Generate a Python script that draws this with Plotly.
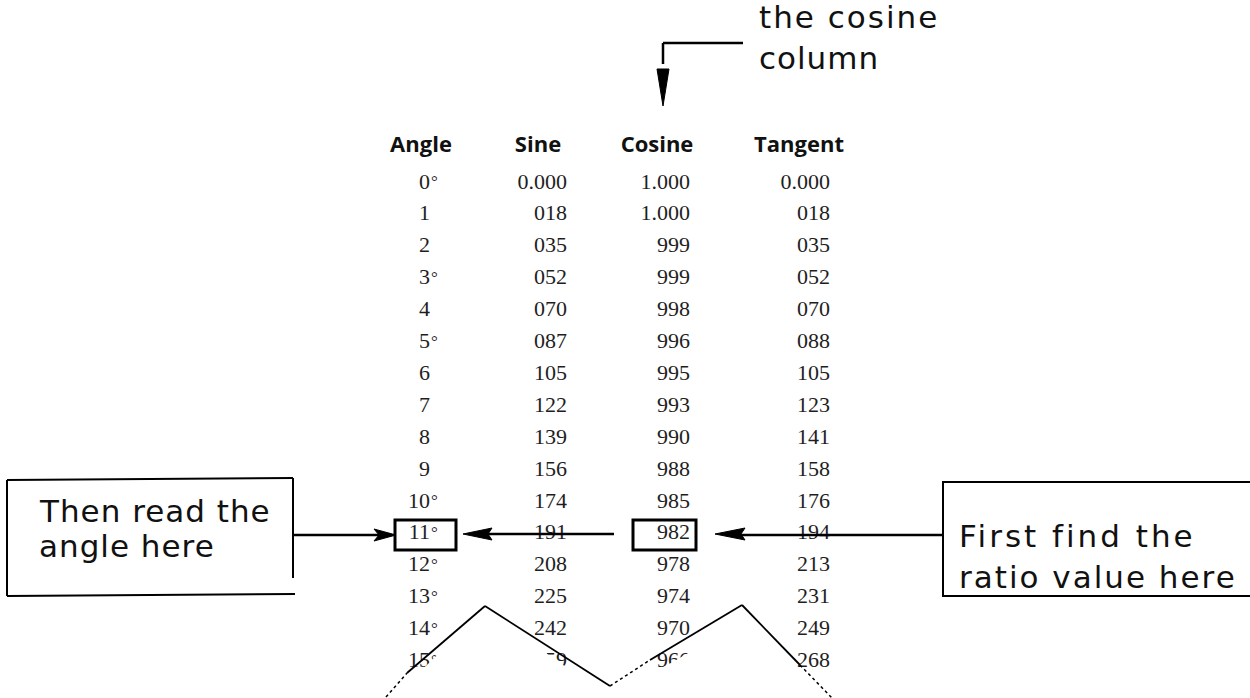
import plotly.graph_objects as go

# ---------------- data ----------------
headers = ["Angle", "Sine", "Cosine", "Tangent"]
angles = [0, 1, 2, 3, 4, 5, 6, 7, 8, 9, 10, 11, 12, 13, 14, 15]
angle_degree_mark = [True, False, False, True, False, True, False, False,
                     False, False, True, True, True, True, True, True]
sine_vals = ["0.000", "018", "035", "052", "070", "087", "105", "122",
             "139", "156", "174", "191", "208", "225", "242", "259"]
cosine_vals = ["1.000", "1.000", "999", "999", "998", "996", "995", "993",
               "990", "988", "985", "982", "978", "974", "970", "966"]
tangent_vals = ["0.000", "018", "035", "052", "070", "088", "105", "123",
                "141", "158", "176", "194", "213", "231", "249", "268"]
note_left = ["Then read the", "angle here"]
note_right = ["First find the", "ratio value here"]
note_top = ["the cosine", "column"]

# ---------------- geometry (layout only) ----------------
W, H = 1250, 698
ROW0_PX, ROW_PX = 183, 31.9
def row_of(px):
    return (px - ROW0_PX) / ROW_PX

rows = list(range(len(angles)))
HEADER_ROW = row_of(146)
COL_RIGHT = {"angle": 430, "sine": 567, "cosine": 690, "tangent": 830}
HEADER_X = [421, 538, 657, 799]

num_font = dict(family="Liberation Serif", size=22, color="#1e1e1e")
hand_font = dict(family="DejaVu Sans", size=31, color="#111")

fig = go.Figure()

fig.add_trace(go.Scatter(
    x=HEADER_X, y=[HEADER_ROW] * 4, mode="text",
    text=[f"<b>{h}</b>" for h in headers], textposition="middle center",
    textfont=dict(family="Open Sans", size=22, color="#111"),
    hoverinfo="skip", showlegend=False))

fig.add_trace(go.Scatter(
    x=[COL_RIGHT["angle"]] * len(angles), y=rows, mode="text",
    text=[str(a) for a in angles], textposition="middle left",
    textfont=num_font, hoverinfo="skip", showlegend=False))

deg_rows = [r for r, d in zip(rows, angle_degree_mark) if d]
fig.add_trace(go.Scatter(
    x=[COL_RIGHT["angle"] + 1] * len(deg_rows), y=deg_rows, mode="text",
    text=["°"] * len(deg_rows), textposition="middle right",
    textfont=dict(family="Liberation Serif", size=17, color="#1e1e1e"),
    hoverinfo="skip", showlegend=False))

for key, vals in (("sine", sine_vals), ("cosine", cosine_vals), ("tangent", tangent_vals)):
    fig.add_trace(go.Scatter(
        x=[COL_RIGHT[key]] * len(vals), y=rows, mode="text",
        text=vals, textposition="middle left",
        textfont=num_font, hoverinfo="skip", showlegend=False))

# ---------------- shapes (pixel coords on y2) ----------------
shapes = []
def line(x0, y0, x1, y1, w=2, dash="solid"):
    shapes.append(dict(type="line", xref="x", yref="y2", x0=x0, y0=y0, x1=x1, y1=y1,
                       line=dict(color="black", width=w, dash=dash), layer="above"))
def path(p, fill="black", w=1, lc="black"):
    shapes.append(dict(type="path", xref="x", yref="y2", path=p, fillcolor=fill,
                       line=dict(color=lc, width=w), layer="above"))
def rect(x0, y0, x1, y1, w=2):
    shapes.append(dict(type="rect", xref="x", yref="y2", x0=x0, y0=y0, x1=x1, y1=y1,
                       line=dict(color="black", width=w), fillcolor="rgba(0,0,0,0)", layer="above"))

# torn-paper cover + zigzag
path("M 370,698 L 392,698 L 485,610 L 610,698 L 742,622 L 832,698 L 845,698 Z",
     fill="white", w=0, lc="white")
line(386, 697, 407, 673, w=1.5, dash="dot")
line(407, 673, 485, 606, w=1.8)
line(485, 606, 610, 686, w=1.8)
line(610, 686, 650, 660, w=1.5, dash="dot")
line(650, 660, 742, 605, w=1.8)
line(742, 605, 800, 665, w=1.8)
line(800, 665, 832, 698, w=1.5, dash="dot")

# left note box
line(7, 480, 293, 478, w=2)
line(7, 480, 7, 596, w=2)
line(7, 596, 295, 594, w=2)
line(293, 478, 293, 578, w=2)
line(293, 535, 382, 535, w=2.5)
path("M 396,535 L 374,529 L 379,535 L 374,541 Z")
rect(395, 520, 456, 550, w=3)

# middle arrow
line(488, 534, 614, 534, w=2.5)
path("M 463,534 L 492,528 L 488,534 L 492,540 Z")
rect(633, 520, 696, 550, w=3)

# right note box
rect(943, 482, 1260, 596, w=2)
line(740, 535, 943, 535, w=2.5)
path("M 715,534 L 745,528 L 741,534 L 745,540 Z")

# top bracket arrow
line(663, 43, 743, 43, w=2.5)
line(663, 43, 663, 64, w=2.5)
path("M 657,69 L 669,69 L 663,106 Z")

# ---------------- annotations (handwritten notes) ----------------
ann = []
def note(x, y, t, sp=2):
    ann.append(dict(x=x, y=y, xref="x", yref="y2",
                    text=f'<span style="letter-spacing:{sp}px">{t}</span>',
                    showarrow=False, xanchor="left", yanchor="middle", font=hand_font))
note(37, 511, note_left[0], 1)
note(37, 546, note_left[1], 1)
note(957, 536, note_right[0], 3)
note(957, 577, note_right[1], 2)
note(757, 17, note_top[0], 2)
note(757, 58, note_top[1], 1)

fig.update_layout(
    width=W, height=H, margin=dict(l=0, r=0, t=0, b=0),
    paper_bgcolor="white", plot_bgcolor="white",
    xaxis=dict(range=[0, W], visible=False, fixedrange=True),
    yaxis=dict(range=[row_of(H), row_of(0)], visible=False, fixedrange=True),
    yaxis2=dict(range=[H, 0], visible=False, overlaying="y", fixedrange=True),
    shapes=shapes, annotations=ann, showlegend=False,
)

fig.write_html("out.html", config={"displayModeBar": False},
               post_script="document.body.style.margin='0';document.body.style.overflow='hidden';")
